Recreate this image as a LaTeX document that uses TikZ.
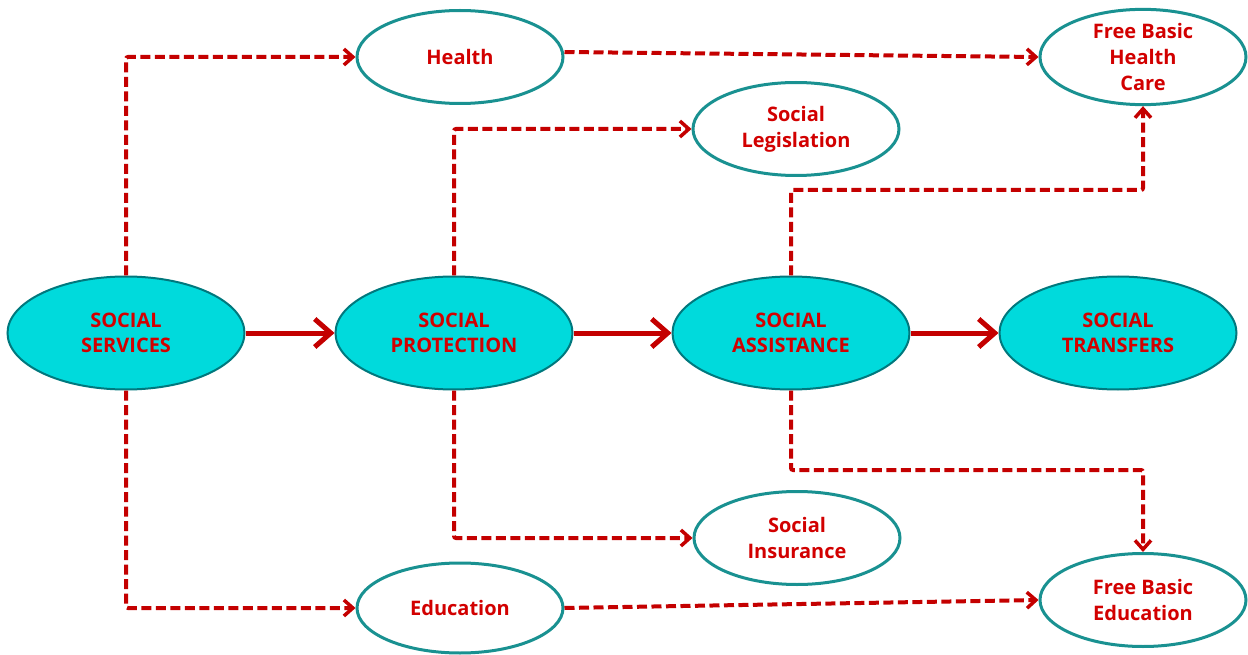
\documentclass[tikz,border=0pt]{standalone}
\usepackage{fontspec}
\setmainfont{Open Sans}
\usetikzlibrary{shapes.geometric,arrows.meta}
\definecolor{arrred}{RGB}{196,0,0}
\definecolor{txtred}{RGB}{210,0,0}
\definecolor{cyanfill}{RGB}{0,218,220}
\definecolor{cyanedge}{RGB}{0,120,125}
\definecolor{tealedge}{RGB}{25,145,145}
\tikzset{
  bigell/.style={ellipse, minimum width=237pt, minimum height=113pt, inner sep=0pt,
    fill=cyanfill, draw=cyanedge, line width=2pt, text=txtred,
    font=\fontsize{20}{25.5}\selectfont\bfseries, align=center},
  smallell/.style={ellipse, minimum width=206pt, minimum height=93pt, inner sep=0pt,
    fill=white, draw=tealedge, line width=3pt, text=txtred,
    font=\fontsize{20}{26}\selectfont\bfseries, align=center},
  dashconn/.style={draw=arrred, line width=4pt, dash pattern=on 10pt off 4.5pt,
    rounded corners=2pt,
    -{Straight Barb[length=9pt,width=16pt,line width=3.5pt]}},
  solidconn/.style={draw=arrred, line width=5pt,
    -{Straight Barb[length=16pt,width=28pt,line width=5pt]}}
}
\begin{document}
\begin{tikzpicture}[x=1pt,y=-1pt]
\useasboundingbox (0,0) rectangle (1248,655);
% big nodes
\node[bigell] (ss) at (126,333) {SOCIAL\\SERVICES};
\node[bigell] (sp) at (454,333) {SOCIAL\\PROTECTION};
\node[bigell] (sa) at (791,333) {SOCIAL\\ASSISTANCE};
\node[bigell] (st) at (1118,333) {SOCIAL\\TRANSFERS};
% small nodes
\node[smallell] (health) at (460,57) {Health};
\node[smallell] (fbhc) at (1143,57) {Free Basic\\Health\\Care};
\node[smallell] (leg) at (796,129) {Social\\Legislation};
\node[smallell] (ins) at (797,538) {Social\\Insurance};
\node[smallell, minimum height=90pt] (edu) at (460,608) {Education};
\node[smallell] (fbe) at (1143,600) {Free Basic\\Education};
% helper coordinates
\coordinate (saup) at (791,190);
\coordinate (sadown) at (791,470);
% solid arrows
\draw[solidconn] (ss.east) -- (sp.west);
\draw[solidconn] (sp.east) -- (sa.west);
\draw[solidconn] (sa.east) -- (st.west);
% dashed connectors
\draw[dashconn] (ss.north) |- (health.west);
\draw[dashconn] (ss.south) |- (edu.west);
\draw[dashconn] ([yshift=5pt]health.east) -- (fbhc.west);
\draw[dashconn] (edu.east) -- (fbe.west);
\draw[dashconn] (sp.north) |- (leg.west);
\draw[dashconn] (sp.south) |- (ins.west);
\draw[dashconn] (sa.north) -- (saup) -| (fbhc.south);
\draw[dashconn] (sa.south) -- (sadown) -| (fbe.north);
\end{tikzpicture}
\end{document}
